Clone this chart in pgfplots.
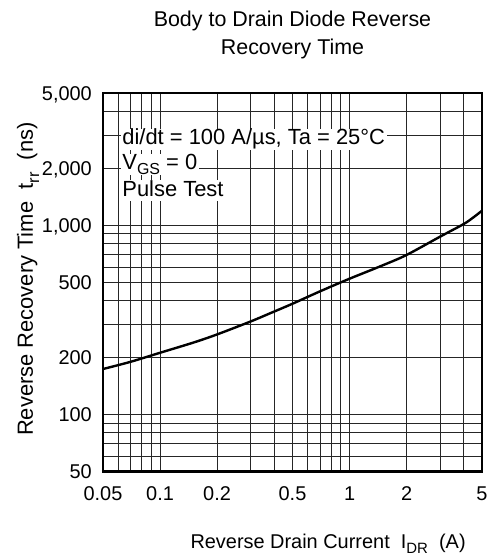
\documentclass[border=0pt]{standalone}
\usepackage{pgfplots}
\pgfplotsset{compat=1.18}
\usepackage{fontspec}
\setmainfont{Liberation Sans}
\newcommand{\sub}[1]{\raisebox{-0.28em}{\fontsize{15}{15}\selectfont #1}}
\newcommand{\subb}[1]{\raisebox{-0.28em}{\fontsize{16.5}{16.5}\selectfont #1}}
\newcommand{\subc}[1]{\raisebox{-0.2em}{\fontsize{16}{16}\selectfont #1}}
\begin{document}
\begin{tikzpicture}
\begin{loglogaxis}[
  name=ax,
  scale only axis,
  width=379bp, height=378.5bp,
  xmin=0.05, xmax=5, ymin=50, ymax=5000,
  xtick={0.05,0.1,0.2,0.5,1,2,5},
  xticklabels={0.05,0.1,0.2,0.5,1,2,5},
  minor xtick={0.06,0.07,0.08,0.09,0.3,0.4,0.6,0.7,0.8,0.9,3,4},
  ytick={50,100,200,500,1000,2000,5000},
  yticklabels={50,100,200,500,{1,000},{2,000},{5,000}},
  minor ytick={60,70,80,90,300,400,600,700,800,900,3000,4000},
  grid=both,
  major grid style={black!85, line width=0.9bp},
  minor grid style={black!85, line width=0.9bp},
  major tick length=0pt, minor tick length=0pt,
  axis line style={line width=2.6bp},
  ticklabel style={font=\fontsize{20}{24}\selectfont, inner sep=0pt},
  xticklabel style={anchor=base, yshift=-29bp},
  yticklabel style={anchor=base east, xshift=-11bp, yshift=-7.2bp},
  clip=false,
]
\addplot[black, line width=2.4bp, smooth] coordinates {
(0.05,174) (0.07,190) (0.1,212) (0.15,240) (0.2,265) (0.3,310) (0.4,350)
(0.5,385) (0.7,448) (1,522) (1.5,615) (2,697) (3,870) (4,1015) (4.5,1100) (5,1194)
};
\tikzset{annot/.style={anchor=base west, fill=white, inner xsep=1.5bp, inner ysep=0pt, text height=16bp, text depth=5bp, font=\fontsize{22}{26}\selectfont}}
\node[annot] at (axis cs:0.062,2658) {di/dt = 100 A/µs, Ta = 25°C};
\node[annot] at (axis cs:0.062,1963) {V\subc{GS} = 0};
\node[annot] at (axis cs:0.062,1425) {Pulse Test};
\end{loglogaxis}
\node[anchor=base, font=\fontsize{21.5}{25}\selectfont] at ([yshift=66bp]ax.north) {Body to Drain Diode Reverse};
\node[anchor=base, font=\fontsize{21.5}{25}\selectfont] at ([yshift=38bp]ax.north) {Recovery Time};
\node[anchor=base west, font=\fontsize{20}{24}\selectfont] at ([xshift=84bp, yshift=-76.5bp]ax.south west) {Reverse Drain Current\ \ I\sub{DR}\ \ (A)};
\node[anchor=base, rotate=90, font=\fontsize{22}{26}\selectfont] at ([xshift=-70bp, yshift=3bp]ax.west) {Reverse Recovery Time\ \ t\subb{rr}\ \ (ns)};
\pgfresetboundingbox
\path ([shift={(-103bp,-88.5bp)}]ax.south west) rectangle ([shift={(10bp,93bp)}]ax.north east);
\end{tikzpicture}
\end{document}
